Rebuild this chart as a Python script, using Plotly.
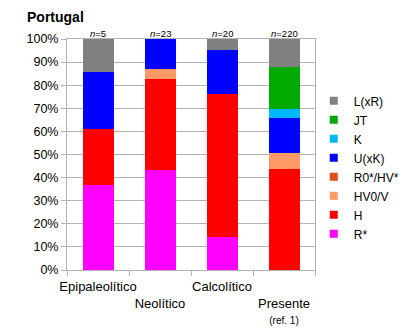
import plotly.graph_objects as go

# Periods on the x axis and their display labels (staggered on two rows)
categories = ["Epipaleolítico", "Neolítico", "Calcolítico", "Presente"]
tick_labels = [
    "Epipaleolítico",
    "<br>Neolítico",
    "Calcolítico",
    "<br>Presente<br><span style='font-size:10px'>(ref. 1)</span>",
]
sample_sizes = [5, 23, 20, 220]

# Haplogroup shares per period (%), stacked from the bottom up
r_star = [36.9, 43.5, 14.3, 0.0]
h = [24.2, 39.1, 61.9, 43.8]
hv0_v = [0.0, 4.3, 0.0, 6.9]
r0_hv = [0.0, 0.0, 0.0, 0.0]
u_xk = [24.7, 13.1, 19.0, 15.2]
k = [0.0, 0.0, 0.0, 3.9]
jt = [0.0, 0.0, 0.0, 18.2]
l_xr = [14.2, 0.0, 4.8, 12.0]

series = [
    ("R*", r_star, "#ff00ff"),
    ("H", h, "#ff0000"),
    ("HV0/V", hv0_v, "#ff9966"),
    ("R0*/HV*", r0_hv, "#e04e14"),
    ("U(xK)", u_xk, "#0000ff"),
    ("K", k, "#00b8ff"),
    ("JT", jt, "#00aa00"),
    ("L(xR)", l_xr, "#808080"),
]

fig = go.Figure()
for name, values, color in series:
    fig.add_trace(go.Bar(
        x=categories, y=values, name=name,
        marker=dict(color=color, line=dict(width=0)),
        showlegend=False,
    ))
    # small square legend swatch
    fig.add_trace(go.Scatter(
        x=[None], y=[None], mode="markers", name=name,
        marker=dict(symbol="square", size=8, color=color),
        showlegend=True,
    ))

for cat, n in zip(categories, sample_sizes):
    fig.add_annotation(
        x=cat, y=100, xref="x", yref="y", yanchor="bottom",
        text=f"<i>n</i>={n}", showarrow=False,
        font=dict(size=9.5, color="#000"), yshift=-2,
    )

grid = "#b3b3b3"
fig.update_layout(
    width=405, height=331,
    margin=dict(l=67, r=90, t=39, b=61, autoexpand=False),
    barmode="stack", bargap=0.5,
    paper_bgcolor="white", plot_bgcolor="white",
    font=dict(family="Liberation Sans, Arial, sans-serif", size=13, color="#000"),
    title=dict(
        text="<b>Portugal</b>", x=27 / 405, xanchor="left",
        y=1 - 17 / 331, yanchor="middle", font=dict(size=14, color="#000"),
    ),
    legend=dict(
        x=0.995, xanchor="left", y=0.795, yanchor="top",
        traceorder="reversed", font=dict(size=12), itemwidth=30,
        itemclick=False, bgcolor="rgba(0,0,0,0)",
    ),
    xaxis=dict(
        type="category", tickmode="array", tickvals=categories, ticktext=tick_labels,
        tickson="boundaries", ticks="outside", ticklen=5, tickcolor=grid,
        tickangle=0, automargin=False, ticklabelstandoff=4,
        showline=True, linecolor=grid, mirror=True, showgrid=False,
        tickfont=dict(size=13),
    ),
    yaxis=dict(
        range=[0, 100], tickvals=list(range(0, 101, 10)),
        ticktext=[f"{v}%" for v in range(0, 101, 10)],
        ticks="outside", ticklen=5, tickcolor=grid, automargin=False,
        showgrid=True, gridcolor=grid, showline=True, linecolor=grid, mirror=True,
        zeroline=False, tickfont=dict(size=12.5),
    ),
)

fig.write_html("out.html")
